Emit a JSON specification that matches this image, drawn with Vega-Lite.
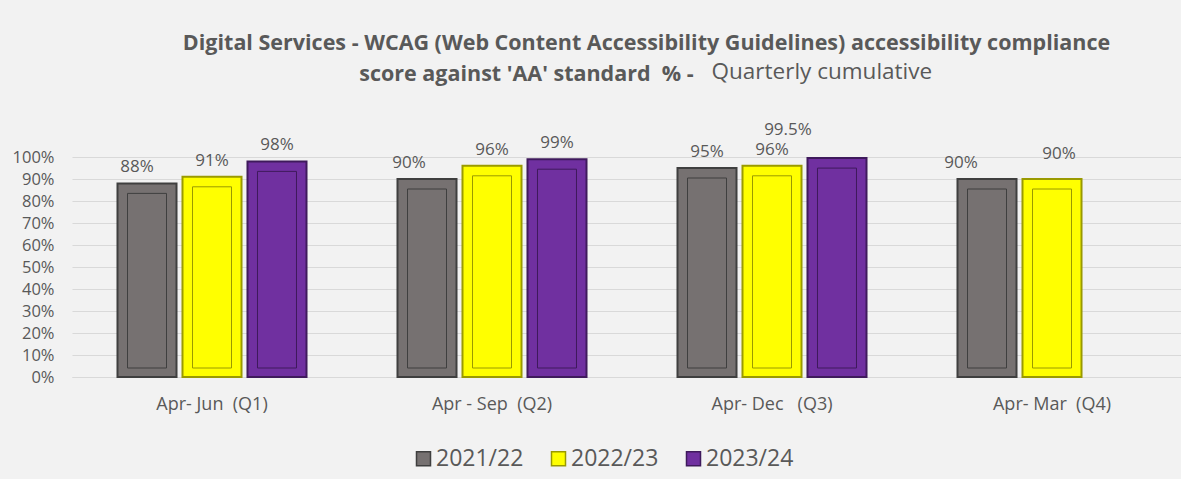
{
  "$schema": "https://vega.github.io/schema/vega-lite/v6.json",
  "width": 1109,
  "height": 220,
  "autosize": {"type": "none"},
  "padding": {"left": 72, "top": 157, "right": 0, "bottom": 102},
  "background": "#f2f2f2",
  "title": {
    "text": ["Digital Services - WCAG (Web Content Accessibility Guidelines) accessibility compliance", "score against 'AA' standard\u00a0\u00a0% -\u00a0\u00a0\u00a0\u00a0\u00a0\u00a0\u00a0\u00a0\u00a0\u00a0\u00a0\u00a0\u00a0\u00a0\u00a0\u00a0\u00a0\u00a0\u00a0\u00a0\u00a0\u00a0\u00a0\u00a0\u00a0\u00a0\u00a0\u00a0\u00a0\u00a0\u00a0\u00a0\u00a0\u00a0\u00a0\u00a0\u00a0\u00a0\u00a0\u00a0\u00a0\u00a0\u00a0\u200b"],
    "subtitle": "\u200b\u00a0\u00a0\u00a0\u00a0\u00a0\u00a0\u00a0\u00a0\u00a0\u00a0\u00a0\u00a0\u00a0\u00a0\u00a0\u00a0\u00a0\u00a0\u00a0\u00a0\u00a0\u00a0\u00a0\u00a0\u00a0\u00a0\u00a0\u00a0\u00a0\u00a0\u00a0\u00a0\u00a0\u00a0\u00a0\u00a0\u00a0\u00a0\u00a0\u00a0\u00a0\u00a0\u00a0\u00a0\u00a0\u00a0\u00a0\u00a0\u00a0\u00a0\u00a0\u00a0\u00a0\u00a0\u00a0\u00a0\u00a0\u00a0\u00a0\u00a0Quarterly cumulative",
    "anchor": "middle",
    "frame": "group",
    "dx": 20,
    "offset": 36,
    "font": "Open Sans",
    "fontSize": 21.5,
    "fontWeight": "bold",
    "color": "#595959",
    "lineHeight": 31,
    "subtitleFont": "Open Sans",
    "subtitleFontSize": 22.5,
    "subtitleFontWeight": "normal",
    "subtitleColor": "#595959",
    "subtitleLineHeight": 31,
    "subtitlePadding": -24
  },
  "data": {
    "values": [
      {"quarter": "Apr- Jun\u00a0 (Q1)", "year": "2021/22", "value": 0.88},
      {"quarter": "Apr- Jun\u00a0 (Q1)", "year": "2022/23", "value": 0.91},
      {"quarter": "Apr- Jun\u00a0 (Q1)", "year": "2023/24", "value": 0.98},
      {"quarter": "Apr - Sep\u00a0 (Q2)", "year": "2021/22", "value": 0.90},
      {"quarter": "Apr - Sep\u00a0 (Q2)", "year": "2022/23", "value": 0.96},
      {"quarter": "Apr - Sep\u00a0 (Q2)", "year": "2023/24", "value": 0.99},
      {"quarter": "Apr- Dec\u00a0\u00a0 (Q3)", "year": "2021/22", "value": 0.95},
      {"quarter": "Apr- Dec\u00a0\u00a0 (Q3)", "year": "2022/23", "value": 0.96},
      {"quarter": "Apr- Dec\u00a0\u00a0 (Q3)", "year": "2023/24", "value": 0.995},
      {"quarter": "Apr- Mar\u00a0 (Q4)", "year": "2021/22", "value": 0.90},
      {"quarter": "Apr- Mar\u00a0 (Q4)", "year": "2022/23", "value": 0.90}
    ]
  },
  "encoding": {
    "x": {
      "field": "quarter",
      "type": "nominal",
      "sort": null,
      "scale": {"range": [0, 1120], "paddingInner": 0.3036, "paddingOuter": 0.1518},
      "axis": {
        "title": null,
        "labelAngle": 0,
        "labelFont": "Open Sans",
        "labelFontSize": 18,
        "labelColor": "#595959",
        "labelPadding": 18,
        "ticks": false,
        "domain": true,
        "domainColor": "#d9d9d9"
      }
    },
    "xOffset": {
      "field": "year",
      "type": "nominal",
      "scale": {"domain": ["2021/22", "2022/23", "2023/24"], "paddingInner": 0.092, "paddingOuter": 0.046}
    },
    "y": {
      "field": "value",
      "type": "quantitative",
      "scale": {"domain": [0, 1], "nice": false},
      "axis": {
        "title": null,
        "values": [0, 0.1, 0.2, 0.3, 0.4, 0.5, 0.6, 0.7, 0.8, 0.9, 1],
        "format": ".0%",
        "labelFont": "Open Sans",
        "labelFontSize": 16.5,
        "labelColor": "#595959",
        "labelPadding": 18,
        "ticks": false,
        "domain": false,
        "gridColor": "#d9d9d9",
        "gridWidth": 1
      }
    }
  },
  "layer": [
    {
      "mark": {"type": "bar", "strokeWidth": 2},
      "encoding": {
        "fill": {
          "field": "year",
          "type": "nominal",
          "scale": {"domain": ["2021/22", "2022/23", "2023/24"], "range": ["#767171", "#ffff00", "#7030a0"]},
          "legend": {
            "title": null,
            "orient": "none",
            "legendX": 340,
            "legendY": 290,
            "direction": "horizontal",
            "symbolType": "square",
            "symbolSize": 196,
            "symbolStrokeWidth": 1.5,
            "labelFont": "Open Sans",
            "labelFontSize": 23,
            "labelColor": "#595959",
            "labelOffset": 1,
            "columnPadding": 23
          }
        },
        "stroke": {
          "field": "year",
          "type": "nominal",
          "scale": {"domain": ["2021/22", "2022/23", "2023/24"], "range": ["#3f3f3f", "#9a9a00", "#3f1a5c"]},
          "legend": {
            "title": null,
            "orient": "none",
            "legendX": 340,
            "legendY": 290,
            "direction": "horizontal",
            "symbolType": "square",
            "symbolSize": 196,
            "symbolStrokeWidth": 1.5,
            "labelFont": "Open Sans",
            "labelFontSize": 23,
            "labelColor": "#595959",
            "labelOffset": 1,
            "columnPadding": 23
          }
        }
      }
    },
    {
      "mark": {"type": "bar", "fill": null, "fillOpacity": 0, "strokeWidth": 1, "width": 39, "yOffset": 10, "y2Offset": -9},
      "encoding": {
        "y2": {"datum": 0},
        "stroke": {"field": "year", "type": "nominal"}
      }
    },
    {
      "transform": [{"filter": "!((datum.year == '2021/22' && datum.quarter != 'Apr- Dec\u00a0\u00a0 (Q3)') || (datum.year == '2023/24' && datum.value == 0.995) || (datum.year == '2022/23' && datum.quarter == 'Apr- Mar\u00a0 (Q4)'))"}],
      "mark": {"type": "text", "font": "Open Sans", "fontSize": 17, "color": "#595959", "baseline": "alphabetic", "dy": -11},
      "encoding": {"text": {"field": "value", "type": "quantitative", "format": ".1~%"}}
    },
    {
      "transform": [{"filter": "datum.year == '2021/22' && datum.quarter == 'Apr- Jun\u00a0 (Q1)'"}],
      "mark": {"type": "text", "font": "Open Sans", "fontSize": 17, "color": "#595959", "baseline": "alphabetic", "dy": -11, "dx": -10},
      "encoding": {"text": {"field": "value", "type": "quantitative", "format": ".1~%"}}
    },
    {
      "transform": [{"filter": "datum.year == '2021/22' && datum.quarter == 'Apr - Sep\u00a0 (Q2)'"}],
      "mark": {"type": "text", "font": "Open Sans", "fontSize": 17, "color": "#595959", "baseline": "alphabetic", "dy": -11, "dx": -18},
      "encoding": {"text": {"field": "value", "type": "quantitative", "format": ".1~%"}}
    },
    {
      "transform": [{"filter": "datum.year == '2021/22' && datum.quarter == 'Apr- Mar\u00a0 (Q4)'"}],
      "mark": {"type": "text", "font": "Open Sans", "fontSize": 17, "color": "#595959", "baseline": "alphabetic", "dy": -11, "dx": -26},
      "encoding": {"text": {"field": "value", "type": "quantitative", "format": ".1~%"}}
    },
    {
      "transform": [{"filter": "datum.year == '2023/24' && datum.value == 0.995"}],
      "mark": {"type": "text", "font": "Open Sans", "fontSize": 17, "color": "#595959", "baseline": "alphabetic", "dy": -23, "dx": -49},
      "encoding": {"text": {"field": "value", "type": "quantitative", "format": ".1~%"}}
    },
    {
      "transform": [{"filter": "datum.year == '2022/23' && datum.quarter == 'Apr- Mar\u00a0 (Q4)'"}],
      "mark": {"type": "text", "font": "Open Sans", "fontSize": 17, "color": "#595959", "baseline": "alphabetic", "dy": -20, "dx": 7},
      "encoding": {"text": {"field": "value", "type": "quantitative", "format": ".1~%"}}
    }
  ],
  "config": {
    "view": {"stroke": null}
  }
}
